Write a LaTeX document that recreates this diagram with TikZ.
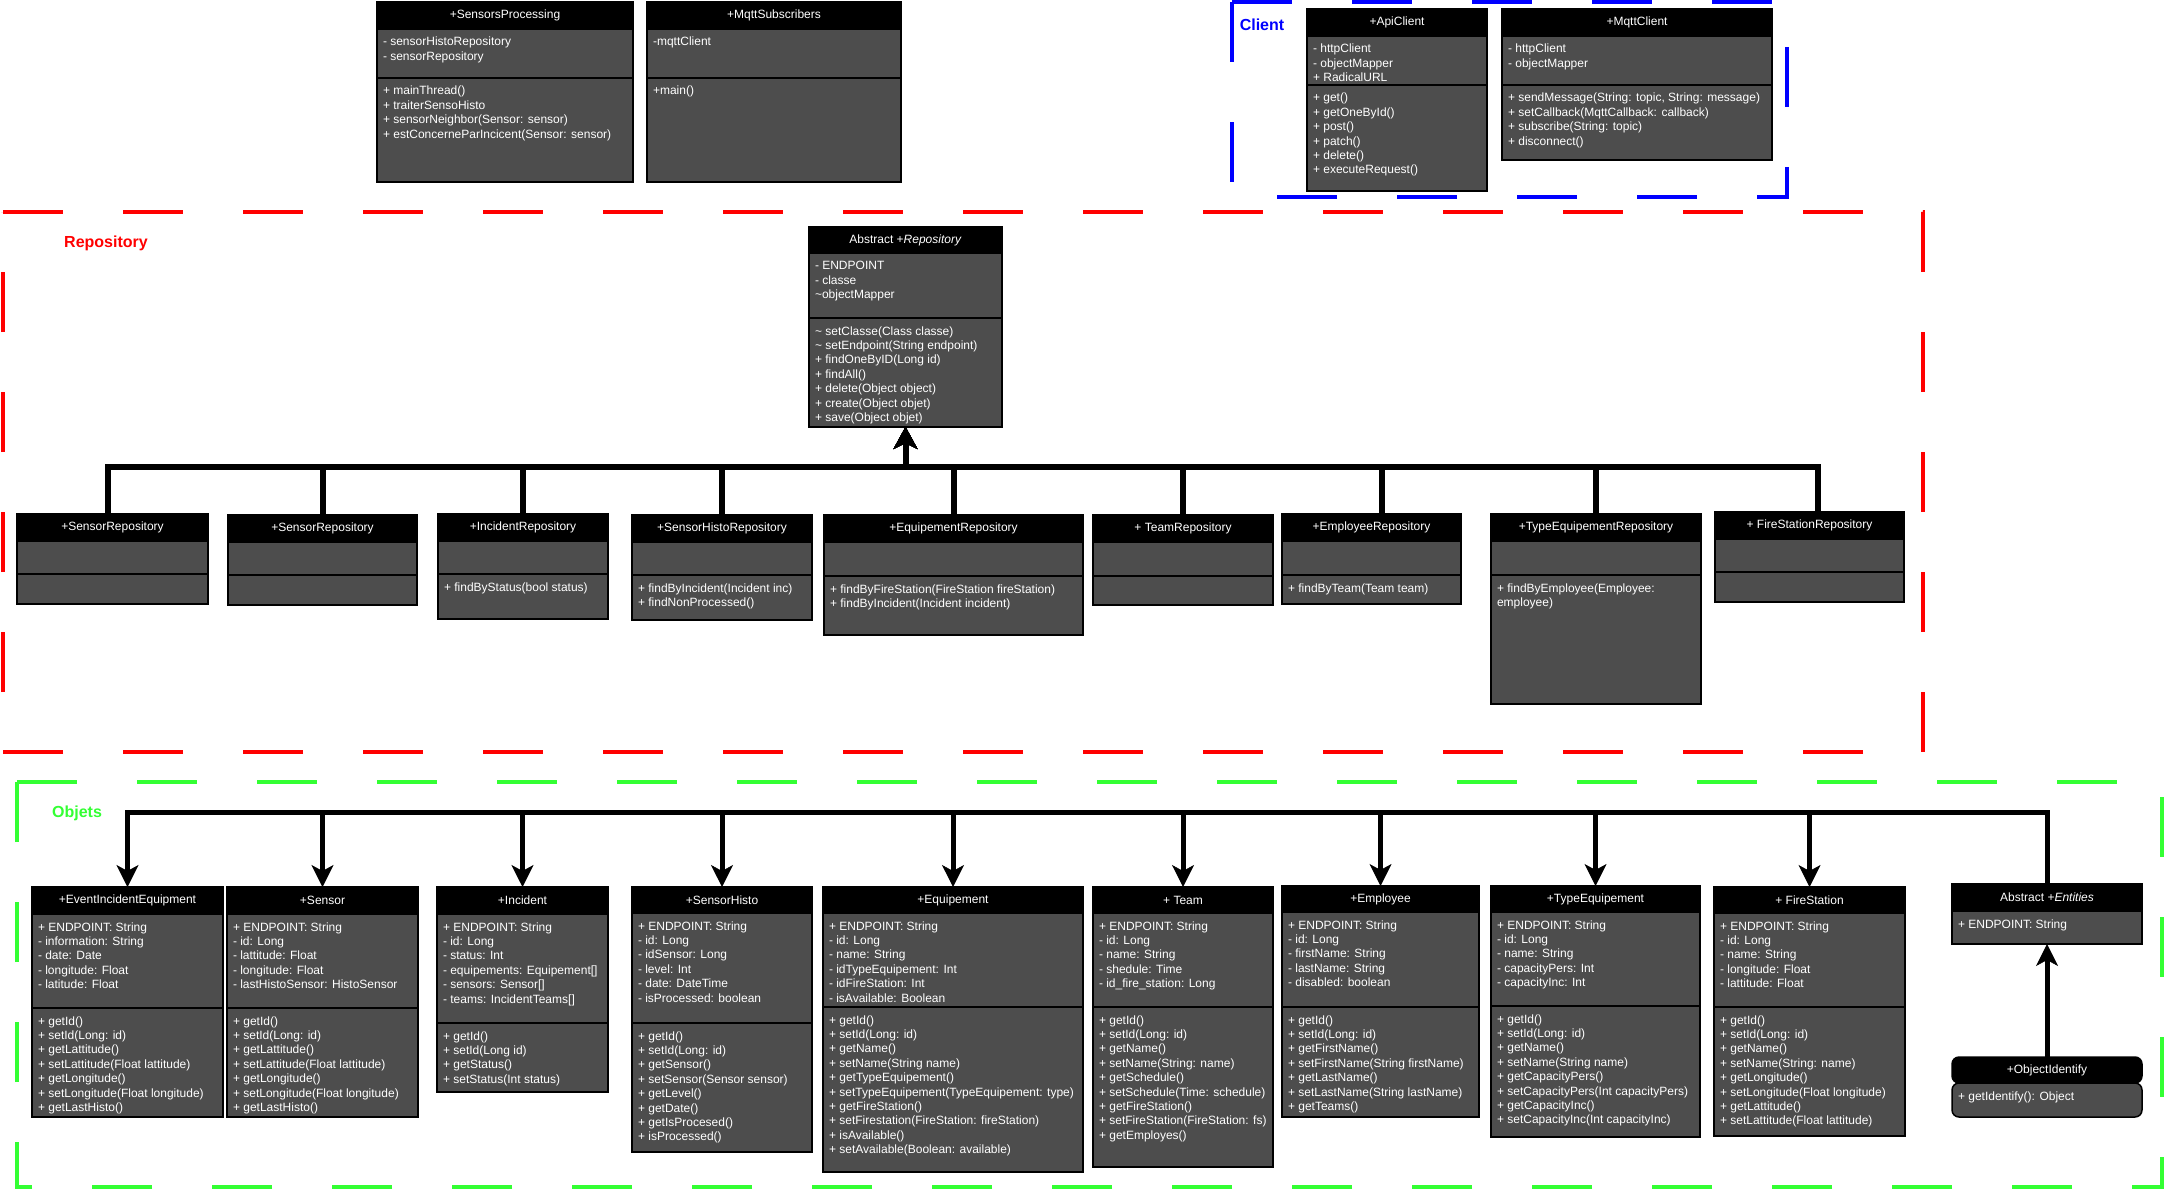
\documentclass[tikz,border=0pt]{standalone}
\usepackage{fontspec}
\setmainfont{Liberation Sans}
\usetikzlibrary{positioning, arrows.meta}

\definecolor{boxgray}{HTML}{4D4D4D}
\definecolor{objgreen}{HTML}{33FF33}

\newcommand{\compart}[3]{%
  \parbox[t][#2pt][t]{#1pt}{\raggedright\leftskip=6pt\rule{0pt}{17pt}#3}}

\tikzstyle{classhead} = [
    rectangle,
    draw=black,
    fill=black,
    text=white,
    line width=1.5pt,
    inner sep=0pt,
    outer sep=0pt,
    anchor=north west
]
\tikzstyle{classbody} = [
    rectangle,
    draw=black,
    fill=boxgray,
    text=white,
    line width=1.5pt,
    inner sep=0pt,
    outer sep=0pt
]
\tikzstyle{package} = [line width=4.5pt, dash pattern=on 60pt off 60pt]
\tikzstyle{pkglabel} = [font=\fontsize{16}{19}\selectfont\bfseries]
\tikzstyle{repoarrow} = [line width=6pt, -{Stealth[length=22pt,width=24pt,inset=6pt,line width=0.5pt]}]
\tikzstyle{objarrow} = [line width=5pt, -{Stealth[length=22pt,width=22pt,inset=6pt,line width=0.5pt]}]

\begin{document}
\begin{tikzpicture}[x=1pt, y=-1pt, font=\fontsize{12}{14.4}\selectfont]

\fill[white] (0,0) rectangle (2165,1190);
\useasboundingbox (0,0) rectangle (2165,1190);

% packages
\draw[package, blue] (1232,2) -- (1787,2) -- (1787,197) -- (1232,197) -- cycle;
\draw[package, red] (3,212) -- (1923,212) -- (1923,752) -- (3,752) -- cycle;
\draw[package, objgreen] (17,782) -- (2162,782) -- (2162,1187) -- (17,1187) -- cycle;

\node[pkglabel, text=blue] (clientlabel) at (1262,25) {Client};
\node[pkglabel, text=red] (repolabel) at (106,243) {Repository};
\node[pkglabel, text=objgreen] (objlabel) at (77,813) {Objets};

% processing
\node[classhead, minimum width=256, minimum height=27] (sensorsproc) at (377,2) {+SensorsProcessing};
\node[classbody, below=0pt of sensorsproc] (sensorsproc-a)
{\compart{256}{49}{- sensorHistoRepository\\- sensorRepository}};
\node[classbody, below=0pt of sensorsproc-a] (sensorsproc-o)
{\compart{256}{104}{+ mainThread()\\+ traiterSensoHisto\\+ sensorNeighbor(Sensor: sensor)\\+ estConcerneParIncicent(Sensor: sensor)}};

\node[classhead, minimum width=254, minimum height=27] (mqttsubs) at (647,2) {+MqttSubscribers};
\node[classbody, below=0pt of mqttsubs] (mqttsubs-a) {\compart{254}{49}{-mqttClient}};
\node[classbody, below=0pt of mqttsubs-a] (mqttsubs-o) {\compart{254}{104}{+main()}};

% client
\node[classhead, minimum width=180, minimum height=27] (apiclient) at (1307,9) {+ApiClient};
\node[classbody, below=0pt of apiclient] (apiclient-a)
{\compart{180}{49}{- httpClient\\- objectMapper\\+ RadicalURL}};
\node[classbody, below=0pt of apiclient-a] (apiclient-o)
{\compart{180}{106}{+ get()\\+ getOneById()\\+ post()\\+ patch()\\+ delete()\\+ executeRequest()}};

\node[classhead, minimum width=270, minimum height=27] (mqttclient) at (1502,9) {+MqttClient};
\node[classbody, below=0pt of mqttclient] (mqttclient-a)
{\compart{270}{49}{- httpClient\\- objectMapper}};
\node[classbody, below=0pt of mqttclient-a] (mqttclient-o)
{\compart{270}{75}{+ sendMessage(String: topic, String: message)\\+ setCallback(MqttCallback: callback)\\+ subscribe(String: topic)\\+ disconnect()}};

% repository
\node[classhead, minimum width=193, minimum height=26] (repo) at (809,227) {Abstract +\textit{Repository}};
\node[classbody, below=0pt of repo] (repo-a)
{\compart{193}{65}{- ENDPOINT\\- classe\\\textasciitilde objectMapper}};
\node[classbody, below=0pt of repo-a] (repo-o)
{\compart{193}{109}{\textasciitilde\ setClasse(Class classe)\\\textasciitilde\ setEndpoint(String endpoint)\\+ findOneByID(Long id)\\+ findAll()\\+ delete(Object object)\\+ create(Object objet)\\+ save(Object objet)}};

\node[classhead, minimum width=191, minimum height=27] (srepoa) at (17,514) {+SensorRepository};
\node[classbody, below=0pt of srepoa] (srepoa-a) {\compart{191}{33}{}};
\node[classbody, below=0pt of srepoa-a] (srepoa-o) {\compart{191}{30}{}};

\node[classhead, minimum width=189, minimum height=27] (srepob) at (228,515) {+SensorRepository};
\node[classbody, below=0pt of srepob] (srepob-a) {\compart{189}{33}{}};
\node[classbody, below=0pt of srepob-a] (srepob-o) {\compart{189}{30}{}};

\node[classhead, minimum width=170, minimum height=27] (irepo) at (438,514) {+IncidentRepository};
\node[classbody, below=0pt of irepo] (irepo-a) {\compart{170}{33}{}};
\node[classbody, below=0pt of irepo-a] (irepo-o) {\compart{170}{45}{+ findByStatus(bool status)}};

\node[classhead, minimum width=180, minimum height=27] (shrepo) at (632,515) {+SensorHistoRepository};
\node[classbody, below=0pt of shrepo] (shrepo-a) {\compart{180}{33}{}};
\node[classbody, below=0pt of shrepo-a] (shrepo-o)
{\compart{180}{45}{+ findByIncident(Incident inc)\\+ findNonProcessed()}};

\node[classhead, minimum width=259, minimum height=27] (eqrepo) at (824,515) {+EquipementRepository};
\node[classbody, below=0pt of eqrepo] (eqrepo-a) {\compart{259}{34}{}};
\node[classbody, below=0pt of eqrepo-a] (eqrepo-o)
{\compart{259}{59}{+ findByFireStation(FireStation fireStation)\\+ findByIncident(Incident incident)}};

\node[classhead, minimum width=180, minimum height=27] (teamrepo) at (1093,515) {+ TeamRepository};
\node[classbody, below=0pt of teamrepo] (teamrepo-a) {\compart{180}{34}{}};
\node[classbody, below=0pt of teamrepo-a] (teamrepo-o) {\compart{180}{29}{}};

\node[classhead, minimum width=179, minimum height=27] (emprepo) at (1282,514) {+EmployeeRepository};
\node[classbody, below=0pt of emprepo] (emprepo-a) {\compart{179}{34}{}};
\node[classbody, below=0pt of emprepo-a] (emprepo-o) {\compart{179}{29}{+ findByTeam(Team team)}};

\node[classhead, minimum width=210, minimum height=27] (tyrepo) at (1491,514) {+TypeEquipementRepository};
\node[classbody, below=0pt of tyrepo] (tyrepo-a) {\compart{210}{34}{}};
\node[classbody, below=0pt of tyrepo-a] (tyrepo-o)
{\compart{210}{129}{+ findByEmployee(Employee:\\employee)}};

\node[classhead, minimum width=189, minimum height=27] (fsrepo) at (1715,512) {+ FireStationRepository};
\node[classbody, below=0pt of fsrepo] (fsrepo-a) {\compart{189}{33}{}};
\node[classbody, below=0pt of fsrepo-a] (fsrepo-o) {\compart{189}{30}{}};

% objets
\node[classhead, minimum width=191, minimum height=27] (eie) at (32,887) {+EventIncidentEquipment};
\node[classbody, below=0pt of eie] (eie-a)
{\compart{191}{94}{+ ENDPOINT: String\\- information: String\\- date: Date\\- longitude: Float\\- latitude: Float}};
\node[classbody, below=0pt of eie-a] (eie-o)
{\compart{191}{109}{+ getId()\\+ setId(Long: id)\\+ getLattitude()\\+ setLattitude(Float lattitude)\\+ getLongitude()\\+ setLongitude(Float longitude)\\+ getLastHisto()}};

\node[classhead, minimum width=191, minimum height=27] (sensor) at (227,887) {+Sensor};
\node[classbody, below=0pt of sensor] (sensor-a)
{\compart{191}{94}{+ ENDPOINT: String\\- id: Long\\- lattitude: Float\\- longitude: Float\\- lastHistoSensor: HistoSensor}};
\node[classbody, below=0pt of sensor-a] (sensor-o)
{\compart{191}{109}{+ getId()\\+ setId(Long: id)\\+ getLattitude()\\+ setLattitude(Float lattitude)\\+ getLongitude()\\+ setLongitude(Float longitude)\\+ getLastHisto()}};

\node[classhead, minimum width=171, minimum height=27] (incident) at (437,887) {+Incident};
\node[classbody, below=0pt of incident] (incident-a)
{\compart{171}{109}{+ ENDPOINT: String\\- id: Long\\- status: Int\\- equipements: Equipement[]\\- sensors: Sensor[]\\- teams: IncidentTeams[]}};
\node[classbody, below=0pt of incident-a] (incident-o)
{\compart{171}{69}{+ getId()\\+ setId(Long id)\\+ getStatus()\\+ setStatus(Int status)}};

\node[classhead, minimum width=180, minimum height=26] (shisto) at (632,887) {+SensorHisto};
\node[classbody, below=0pt of shisto] (shisto-a)
{\compart{180}{110}{+ ENDPOINT: String\\- id: Long\\- idSensor: Long\\- level: Int\\- date: DateTime\\- isProcessed: boolean}};
\node[classbody, below=0pt of shisto-a] (shisto-o)
{\compart{180}{129}{+ getId()\\+ setId(Long: id)\\+ getSensor()\\+ setSensor(Sensor sensor)\\+ getLevel()\\+ getDate()\\+ getIsProcesed()\\+ isProcessed()}};

\node[classhead, minimum width=260, minimum height=26] (equip) at (823,887) {+Equipement};
\node[classbody, below=0pt of equip] (equip-a)
{\compart{260}{94}{+ ENDPOINT: String\\- id: Long\\- name: String\\- idTypeEquipement: Int\\- idFireStation: Int\\- isAvailable: Boolean}};
\node[classbody, below=0pt of equip-a] (equip-o)
{\compart{260}{165}{+ getId()\\+ setId(Long: id)\\+ getName()\\+ setName(String name)\\+ getTypeEquipement()\\+ setTypeEquipement(TypeEquipement: type)\\+ getFireStation()\\+ setFirestation(FireStation: fireStation)\\+ isAvailable()\\+ setAvailable(Boolean: available)}};

\node[classhead, minimum width=180, minimum height=26] (team) at (1093,887) {+ Team};
\node[classbody, below=0pt of team] (team-a)
{\compart{180}{94}{+ ENDPOINT: String\\- id: Long\\- name: String\\- shedule: Time\\- id\_fire\_station: Long}};
\node[classbody, below=0pt of team-a] (team-o)
{\compart{180}{160}{+ getId()\\+ setId(Long: id)\\+ getName()\\+ setName(String: name)\\+ getSchedule()\\+ setSchedule(Time: schedule)\\+ getFireStation()\\+ setFireStation(FireStation: fs)\\+ getEmployes()}};

\node[classhead, minimum width=197, minimum height=26] (employee) at (1282,886) {+Employee};
\node[classbody, below=0pt of employee] (employee-a)
{\compart{197}{95}{+ ENDPOINT: String\\- id: Long\\- firstName: String\\- lastName: String\\- disabled: boolean}};
\node[classbody, below=0pt of employee-a] (employee-o)
{\compart{197}{110}{+ getId()\\+ setId(Long: id)\\+ getFirstName()\\+ setFirstName(String firstName)\\+ getLastName()\\+ setLastName(String lastName)\\+ getTeams()}};

\node[classhead, minimum width=209, minimum height=26] (typeeq) at (1491,886) {+TypeEquipement};
\node[classbody, below=0pt of typeeq] (typeeq-a)
{\compart{209}{94}{+ ENDPOINT: String\\- id: Long\\- name: String\\- capacityPers: Int\\- capacityInc: Int}};
\node[classbody, below=0pt of typeeq-a] (typeeq-o)
{\compart{209}{131}{+ getId()\\+ setId(Long: id)\\+ getName()\\+ setName(String name)\\+ getCapacityPers()\\+ setCapacityPers(Int capacityPers)\\+ getCapacityInc()\\+ setCapacityInc(Int capacityInc)}};

\node[classhead, minimum width=191, minimum height=26] (firest) at (1714,887) {+ FireStation};
\node[classbody, below=0pt of firest] (firest-a)
{\compart{191}{94}{+ ENDPOINT: String\\- id: Long\\- name: String\\- longitude: Float\\- lattitude: Float}};
\node[classbody, below=0pt of firest-a] (firest-o)
{\compart{191}{129}{+ getId()\\+ setId(Long: id)\\+ getName()\\+ setName(String: name)\\+ getLongitude()\\+ setLongitude(Float longitude)\\+ getLattitude()\\+ setLattitude(Float lattitude)}};

\node[classhead, minimum width=190, minimum height=27] (entities) at (1952,884) {Abstract +\textit{Entities}};
\node[classbody, below=0pt of entities] (entities-a) {\compart{190}{33}{+ ENDPOINT: String}};

\node[classhead, rounded corners=7pt, minimum width=190, minimum height=26] (objid) at (1952,1057) {+ObjectIdentify};
\node[classbody, rounded corners=7pt, below=0pt of objid] (objid-a) {\compart{190}{34}{+ getIdentify(): Object}};

% connectors
\coordinate (repobus) at (0,467);
\coordinate (objbus) at (0,812);

\foreach \n/\dx in {srepoa/-5, srepob/0, irepo/0, shrepo/0, eqrepo/0, teamrepo/0, emprepo/10, tyrepo/0, fsrepo/8}
  \draw[repoarrow] ([xshift=\dx pt]\n.north) -- ([xshift=\dx pt]\n.north |- repobus) -| (repo-o.south);

\foreach \n in {eie, sensor, incident, shisto, equip, team, employee, typeeq, firest}
  \draw[objarrow] (entities.north) -- (entities.north |- objbus) -| (\n.north);

\draw[objarrow] (objid.north) -- (entities-a.south);

\end{tikzpicture}
\end{document}
